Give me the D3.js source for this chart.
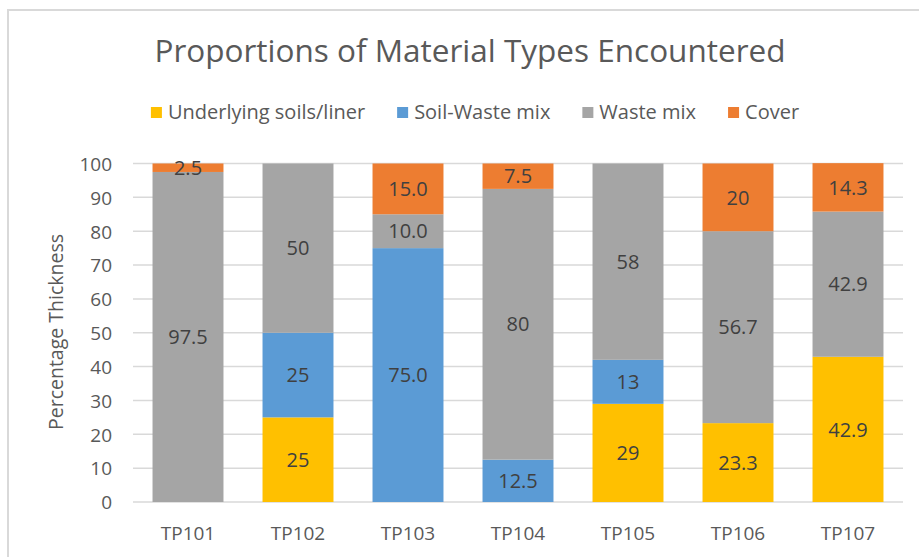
<!DOCTYPE html>
<html>
<head>
<meta charset="utf-8">
<script src="https://cdn.jsdelivr.net/npm/d3@7"></script>
<style>
  html, body { margin: 0; padding: 0; background: #fff; }
  svg { display: block; font-family: "Open Sans", sans-serif; }
</style>
</head>
<body>
<svg id="chart" width="919" height="557"></svg>
<script>
// ---- data ----
const categories = ["TP101", "TP102", "TP103", "TP104", "TP105", "TP106", "TP107"];
const seriesNames = ["Underlying soils/liner", "Soil-Waste mix", "Waste mix", "Cover"];
const underlying = [0, 25, 0, 0, 29, 23.3, 42.9];
const soilWaste  = [0, 25, 75, 12.5, 13, 0, 0];
const wasteMix   = [97.5, 50, 10, 80, 58, 56.7, 42.9];
const cover      = [2.5, 0, 15, 7.5, 0, 20, 14.3];
const underlyingLabels = ["", "25", "", "", "29", "23.3", "42.9"];
const soilWasteLabels  = ["", "25", "75.0", "12.5", "13", "", ""];
const wasteMixLabels   = ["97.5", "50", "10.0", "80", "58", "56.7", "42.9"];
const coverLabels      = ["2.5", "", "15.0", "7.5", "", "20", "14.3"];
const yTicks = [0, 10, 20, 30, 40, 50, 60, 70, 80, 90, 100];
const titleText = "Proportions of Material Types Encountered";
const yTitle = "Percentage Thickness";

const colors = ["#FFC000", "#5B9BD5", "#A5A5A5", "#ED7D31"];
const seriesValues = [underlying, soilWaste, wasteMix, cover];
const seriesLabels = [underlyingLabels, soilWasteLabels, wasteMixLabels, coverLabels];

const svg = d3.select("#chart");

// chart frame
svg.append("rect")
  .attr("x", 8).attr("y", 10).attr("width", 930).attr("height", 560)
  .attr("fill", "#fff").attr("stroke", "#D9D9D9").attr("stroke-width", 2);

// scales
const x = d3.scaleBand().domain(categories).range([133, 903])
  .paddingInner(0.355).paddingOuter(0.1775);
const y = d3.scaleLinear().domain([0, 100]).range([502, 163.5]);

// gridlines
svg.append("g").selectAll("line").data(yTicks).join("line")
  .attr("x1", 133).attr("x2", 903)
  .attr("y1", d => y(d)).attr("y2", d => y(d))
  .attr("stroke", "#D9D9D9").attr("stroke-width", 1.5);

// stacked data
const rows = categories.map((c, i) => {
  const o = { cat: c };
  seriesNames.forEach((s, k) => { o[s] = seriesValues[k][i]; });
  return o;
});
const stacked = d3.stack().keys(seriesNames)(rows);

const bars = svg.append("g");
stacked.forEach((layer, k) => {
  bars.append("g").attr("fill", colors[k]).selectAll("rect")
    .data(layer.filter(d => d[1] - d[0] > 0)).join("rect")
    .attr("x", d => x(d.data.cat))
    .attr("width", x.bandwidth())
    .attr("y", d => y(d[1]))
    .attr("height", d => y(d[0]) - y(d[1]));
});

// data labels
const lab = svg.append("g").attr("font-size", 20).attr("fill", "#404040")
  .attr("text-anchor", "middle");
stacked.forEach((layer, k) => {
  layer.forEach((d, i) => {
    const t = seriesLabels[k][i];
    if (!t) return;
    lab.append("text")
      .attr("x", x(d.data.cat) + x.bandwidth() / 2)
      .attr("y", y((d[0] + d[1]) / 2))
      .attr("dy", "0.36em")
      .text(t);
  });
});

// y axis
const yAxis = d3.axisLeft(y).tickValues(yTicks).tickSize(0).tickPadding(0);
const ya = svg.append("g").attr("transform", "translate(112,0)").call(yAxis);
ya.select(".domain").remove();
ya.selectAll("text").attr("font-size", 19).attr("fill", "#595959")
  .attr("font-family", "Open Sans, sans-serif").attr("dy", "0.36em");

// x axis
const xAxis = d3.axisBottom(x).tickSize(0).tickPadding(0);
const xa = svg.append("g").attr("transform", "translate(0,533)").call(xAxis);
xa.select(".domain").remove();
xa.selectAll("text").attr("font-size", 19).attr("fill", "#595959")
  .attr("font-family", "Open Sans, sans-serif").attr("dy", "0.36em");

// y title
svg.append("text")
  .attr("transform", "translate(63,332) rotate(-90)")
  .attr("text-anchor", "middle").attr("font-size", 19.5).attr("fill", "#595959")
  .text(yTitle);

// title
svg.append("text")
  .attr("x", 470).attr("y", 62).attr("text-anchor", "middle")
  .attr("font-size", 31.5).attr("fill", "#595959")
  .text(titleText);

// legend
const leg = svg.append("g");
let cx = 0;
seriesNames.forEach((s, k) => {
  const g = leg.append("g");
  g.append("rect").attr("x", 0).attr("y", -12).attr("width", 11).attr("height", 11)
    .attr("fill", colors[k]);
  const t = g.append("text").attr("x", 17).attr("y", 0).attr("font-size", 20)
    .attr("fill", "#595959").text(s);
  const w = 17 + t.node().getComputedTextLength();
  g.attr("transform", `translate(${cx},0)`);
  cx += w + 32;
});
const total = cx - 32;
leg.attr("transform", `translate(${475 - total / 2},119)`);
</script>
</body>
</html>
